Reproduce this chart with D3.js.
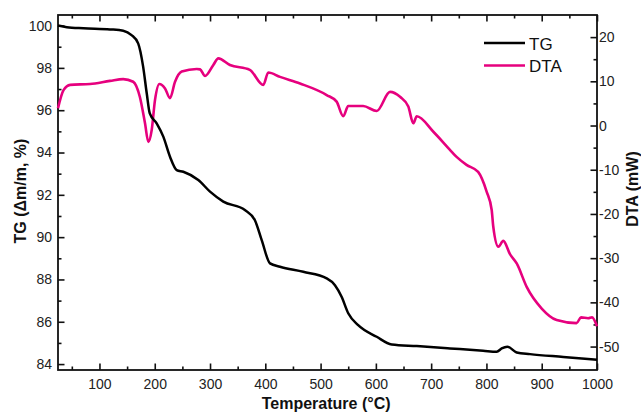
<!DOCTYPE html>
<html>
<head>
<meta charset="utf-8">
<script src="https://cdn.jsdelivr.net/npm/d3@7"></script>
<style>
    body { margin: 0; background: #fff; }
    text { font-family: Arial, "Liberation Sans", sans-serif; }
    .tick text { font-size: 14px; fill: #222; }
    .axis-title { font-size: 16px; font-weight: bold; fill: #111; }
</style>
</head>
<body>
<div id="chart"></div>
<script>
// TG curve (mass %, left axis)
var tgTemp = [25, 41, 71, 119, 143, 158, 170, 179, 185.5, 191, 203.5, 215.5, 227.6, 239.7, 251.7, 278.8, 300,
    324, 363, 381, 393.5, 408.5, 426.6, 468.7, 511, 526, 538, 550, 568, 601.5, 628.6, 674, 734, 794,
    818.6, 827.6, 837.8, 854.8, 878.8, 939, 1000];
var tgValues = [100.0, 99.92, 99.87, 99.82, 99.76, 99.55, 99.16, 98.06, 96.8, 95.85, 95.38, 94.75, 93.8, 93.17, 93.09, 92.7, 92.15,
    91.68, 91.28, 90.81, 89.86, 88.76, 88.6, 88.36, 88.05, 87.73, 87.18, 86.4, 85.84, 85.29, 84.93, 84.85, 84.74, 84.63,
    84.58, 84.74, 84.82, 84.55, 84.47, 84.34, 84.21];

// DTA curve (mW, right axis)
var dtaTemp = [25, 35, 47, 83, 119, 143, 161, 173, 182.4, 188.4, 194.5, 200.5, 208.3, 218.6, 227.6, 236.7, 248.8, 275.9,
    282, 291, 306, 315, 336, 372, 396.4, 405.4, 426.6, 462.8, 511, 529, 541, 550, 577, 601.5, 625.6, 643.7,
    658.7, 667.7, 674, 704, 734, 746, 764, 785, 800.5, 809.5, 812.4, 821.5, 830.5, 842.6, 854.8, 872.8, 900,
    927, 963, 971, 984, 991, 1000];
var dtaValues = [3.9, 8.0, 9.2, 9.4, 10.1, 10.5, 9.9, 6.5, 0.5, -3.7, -1.0, 5.8, 9.4, 8.4, 6.2, 9.9, 12.2, 12.8,
    12.7, 11.2, 13.7, 15.2, 13.7, 12.6, 9.2, 12.0, 11.0, 9.5, 6.9, 5.4, 2.1, 4.4, 4.4, 3.3, 7.6, 6.5,
    4.3, 0.5, 2.1, -1.4, -5.5, -7.1, -8.9, -10.5, -15.0, -19.1, -22.9, -27.4, -26.1, -29.1, -31.2, -36.5, -41.4,
    -44.0, -44.7, -43.4, -43.6, -43.4, -45.4];

// Tick values
var xTicks = [100, 200, 300, 400, 500, 600, 700, 800, 900, 1000];
var xMinor = [50, 150, 250, 350, 450, 550, 650, 750, 850, 950];
var tgTicks = [84, 86, 88, 90, 92, 94, 96, 98, 100];
var tgMinor = [85, 87, 89, 91, 93, 95, 97, 99];
var dtaTicks = [-50, -40, -30, -20, -10, 0, 10, 20];
var dtaMinor = [-45, -35, -25, -15, -5, 5, 15];

var svgWidth = 641;
var svgHeight = 414;

var margin = { top: 15, right: 44, bottom: 44, left: 58 };
var width = svgWidth - margin.left - margin.right;
var height = svgHeight - margin.top - margin.bottom;

var svg = d3.select("#chart")
    .append("svg")
    .attr("width", svgWidth)
    .attr("height", svgHeight);

var chartGroup = svg.append("g")
    .attr("transform", `translate(${margin.left}, ${margin.top})`);

// Scales
var xScale = d3.scaleLinear().domain([25, 1000]).range([0, width]);
var yLeft = d3.scaleLinear().domain([83.72, 100.5]).range([height, 0]);
var yRight = d3.scaleLinear().domain([-55.3, 25]).range([height, 0]);

var fmt = d => String(d);

// Helper: major + minor ticks pointing inward
function drawAxis(axisFn, scale, major, minor, transform, showLabels, pad) {
    var g = chartGroup.append("g").attr("transform", transform);
    g.call(axisFn(scale).tickValues(major).tickSizeInner(-6.5).tickSizeOuter(0)
        .tickPadding(pad).tickFormat(showLabels ? fmt : ""));
    g.append("g").call(axisFn(scale).tickValues(minor).tickSizeInner(-3.5).tickSizeOuter(0).tickFormat(""));
    g.selectAll("path").remove();
    g.selectAll("line").attr("stroke", "#111").attr("stroke-width", 1.6);
    return g;
}

drawAxis(d3.axisBottom, xScale, xTicks, xMinor, `translate(0, ${height})`, true, 9);
drawAxis(d3.axisTop, xScale, xTicks, xMinor, "translate(0, 0)", false, 3);
drawAxis(d3.axisLeft, yLeft, tgTicks, tgMinor, "translate(0, 0)", true, 6);
drawAxis(d3.axisRight, yRight, dtaTicks, dtaMinor, `translate(${width}, 0)`, true, 2);

// Frame
chartGroup.append("rect")
    .attr("width", width)
    .attr("height", height)
    .attr("fill", "none")
    .attr("stroke", "#111")
    .attr("stroke-width", 1.8);

// Lines
var tgLine = d3.line()
    .x((d, i) => xScale(tgTemp[i]))
    .y(d => yLeft(d))
    .curve(d3.curveMonotoneX);

var dtaLine = d3.line()
    .x((d, i) => xScale(dtaTemp[i]))
    .y(d => yRight(d))
    .curve(d3.curveMonotoneX);

chartGroup.append("path")
    .attr("d", dtaLine(dtaValues))
    .attr("fill", "none")
    .attr("stroke", "#e6007e")
    .attr("stroke-width", 2.6)
    .attr("stroke-linejoin", "round");

chartGroup.append("path")
    .attr("d", tgLine(tgValues))
    .attr("fill", "none")
    .attr("stroke", "#000")
    .attr("stroke-width", 2.5)
    .attr("stroke-linejoin", "round");

// Legend
var legend = [{ name: "TG", color: "#000" }, { name: "DTA", color: "#e6007e" }];
var legendGroup = svg.append("g").attr("transform", "translate(484, 43)");
legend.forEach(function(item, i) {
    legendGroup.append("line")
        .attr("x1", 0).attr("x2", 41)
        .attr("y1", i * 22.5).attr("y2", i * 22.5)
        .attr("stroke", item.color)
        .attr("stroke-width", 2.6);
    legendGroup.append("text")
        .attr("x", 45)
        .attr("y", i * 22.5 + 6.5)
        .style("font-size", "17px")
        .attr("fill", "#111")
        .text(item.name);
});

// Axis titles
svg.append("text")
    .attr("class", "axis-title")
    .attr("transform", "translate(26, 191) rotate(-90)")
    .attr("text-anchor", "middle")
    .text("TG (Δm/m, %)");

svg.append("text")
    .attr("class", "axis-title")
    .attr("transform", "translate(638, 189) rotate(-90)")
    .attr("text-anchor", "middle")
    .text("DTA (mW)");

svg.append("text")
    .attr("class", "axis-title")
    .attr("x", margin.left + xScale(510))
    .attr("y", 409)
    .attr("text-anchor", "middle")
    .text("Temperature (°C)");
</script>
</body>
</html>
